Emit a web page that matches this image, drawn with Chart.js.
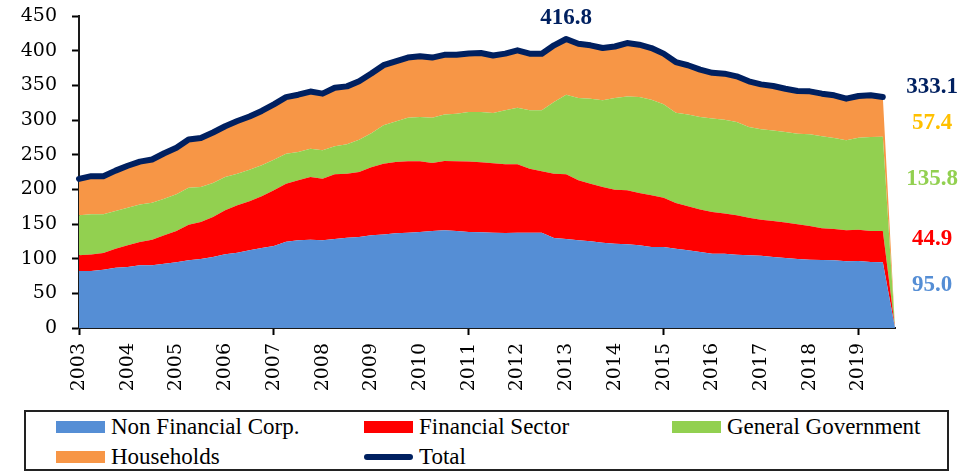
<!DOCTYPE html>
<html>
<head>
<meta charset="utf-8">
<script src="https://cdn.jsdelivr.net/npm/chart.js@4"></script>
<style>
  html, body { margin: 0; padding: 0; background: #fff; }
  #wrap { position: relative; width: 976px; height: 472px; overflow: hidden; }
  #cbox { position: absolute; left: 0; top: 0; width: 976px; height: 405px; }
  #legend { position: absolute; left: 24px; top: 410px; width: 925px; height: 61px;
            box-sizing: border-box; border: 2px solid #222; }
  .li { position: absolute; font-family: "Liberation Serif", serif; font-size: 23px; color: #000;
        white-space: nowrap; line-height: 24px; }
  .sw { position: absolute; }
</style>
</head>
<body>
<div id="wrap">
  <div id="cbox"><canvas id="c"></canvas></div>
  <div id="legend"></div>
</div>
<script>
// ---- data (quarterly, 2003Q1 .. 2019Q4) ----
const years = ['2003','2004','2005','2006','2007','2008','2009','2010','2011','2012','2013','2014','2015','2016','2017','2018','2019'];
const quarters = [];
years.forEach(y => { for (let q = 1; q <= 4; q++) quarters.push(y + 'Q' + q); });

const nonFinancialCorp = [
  82.2, 82.2, 84.0, 87.0, 88.0, 90.4, 90.4, 92.8, 94.7, 97.6, 99.5, 102.4,
  106.3, 108.6, 112.0, 115.4, 118.3, 124.5, 126.4, 127.4, 126.4, 128.4, 130.3, 131.3,
  133.7, 135.0, 136.5, 137.5, 138.5, 140.0, 140.9, 140.0, 138.5, 138.0, 137.5, 137.0,
  137.5, 137.5, 137.5, 129.8, 128.4, 126.4, 125.0, 123.0, 121.6, 120.7, 119.2, 116.8,
  116.8, 114.4, 112.0, 109.6, 107.2, 107.2, 105.8, 104.8, 104.3, 102.4, 101.0, 99.5,
  98.6, 98.0, 97.6, 96.2, 96.6, 95.2, 95.0, 0
];
const financialSector = [
  22.6, 23.8, 24.0, 27.4, 31.2, 33.6, 37.0, 40.9, 45.3, 51.4, 53.5, 57.6,
  63.4, 68.4, 70.7, 74.6, 80.3, 83.5, 86.6, 90.4, 89.0, 93.2, 92.3, 93.7,
  98.3, 102.0, 102.9, 102.9, 101.9, 98.0, 100.0, 100.4, 101.5, 101.0, 100.0, 99.0,
  98.5, 92.3, 88.5, 92.8, 93.2, 86.6, 83.0, 80.4, 77.9, 77.9, 75.5, 74.5,
  71.2, 65.9, 63.5, 61.4, 60.1, 57.8, 56.7, 54.2, 52.0, 51.9, 51.0, 50.0,
  48.4, 46.0, 45.2, 44.7, 45.2, 44.8, 44.9, 0
];
const generalGovernment = [
  57.7, 58.0, 56.0, 54.4, 54.4, 54.0, 53.4, 52.8, 52.8, 53.4, 50.4, 49.0,
  48.1, 45.6, 45.7, 44.6, 44.2, 43.4, 40.8, 40.9, 40.9, 40.4, 42.4, 46.6,
  49.0, 55.3, 58.6, 63.0, 63.9, 65.4, 67.1, 68.6, 71.5, 72.5, 72.5, 78.0,
  81.8, 84.2, 88.0, 103.4, 114.9, 118.7, 122.8, 125.0, 132.2, 135.4, 138.3, 138.0,
  134.6, 130.3, 132.5, 133.3, 134.7, 135.5, 134.5, 131.0, 130.3, 130.7, 130.7, 130.5,
  132.3, 132.4, 131.2, 129.8, 132.7, 135.5, 135.8, 0
];
const households = [
  52.5, 55.0, 55.0, 58.2, 60.4, 62.0, 62.2, 65.5, 67.2, 69.6, 70.6, 73.0,
  73.2, 75.9, 76.6, 78.4, 79.8, 81.6, 82.7, 82.3, 81.7, 84.6, 83.5, 84.4,
  86.0, 86.7, 86.6, 86.6, 87.7, 86.6, 86.0, 85.0, 84.5, 85.1, 83.0, 81.7,
  82.7, 81.7, 81.7, 81.7, 80.3, 78.3, 76.9, 75.4, 74.3, 77.0, 75.6, 74.5,
  73.1, 73.0, 71.0, 68.3, 66.0, 66.3, 66.0, 65.8, 64.9, 64.0, 62.3, 61.8,
  62.0, 61.6, 61.6, 60.1, 60.1, 60.1, 57.4, 0
];
const total = [
  215.0, 219.0, 219.0, 227.0, 234.0, 240.0, 243.0, 252.0, 260.0, 272.0, 274.0, 282.0,
  291.0, 298.5, 305.0, 313.0, 322.6, 333.0, 336.5, 341.0, 338.0, 346.6, 348.5, 356.0,
  367.0, 379.0, 384.6, 390.0, 392.0, 390.0, 394.0, 394.0, 396.0, 396.6, 393.0, 395.7,
  400.5, 395.7, 395.7, 407.7, 416.8, 410.0, 407.7, 403.8, 406.0, 411.0, 408.6, 403.8,
  395.7, 383.6, 379.0, 372.6, 368.0, 366.8, 363.0, 355.8, 351.4, 349.0, 345.0, 341.8,
  341.3, 338.0, 335.6, 330.8, 334.6, 335.6, 333.1, null
];
const yTicks = [0, 50, 100, 150, 200, 250, 300, 350, 400, 450];

// ---- styles ----
const C = { nfc: '#558ED5', fs: '#FF0000', gg: '#92D050', hh: '#F79646', tot: '#002060', hhLabel: '#FFC000' };

const areaDs = (label, data, color, fill) => ({
  label, data, backgroundColor: color, borderColor: color, borderWidth: 0,
  fill, pointRadius: 0, tension: 0, stack: 'sectors'
});

const datasets = [
  { label: 'Total', data: total, borderColor: C.tot, backgroundColor: C.tot, borderWidth: 6,
    fill: false, pointRadius: 0, tension: 0, stack: 'total',
    borderCapStyle: 'round', borderJoinStyle: 'round' },
  areaDs('Non Financial Corp.', nonFinancialCorp, C.nfc, 'origin'),
  areaDs('Financial Sector', financialSector, C.fs, '-1'),
  areaDs('General Government', generalGovernment, C.gg, '-1'),
  areaDs('Households', households, C.hh, '-1')
];

const lastIdx = total.filter(v => v !== null).length - 1;

const labelPlugin = {
  id: 'valueLabels',
  afterDatasetsDraw(chart) {
    const { ctx, chartArea, scales: { x, y } } = chart;
    ctx.save();
    ctx.font = 'bold 23px "Liberation Serif", serif';
    ctx.textAlign = 'center';
    ctx.textBaseline = 'middle';
    // peak of total
    let maxI = 0;
    total.forEach((v, i) => { if (v !== null && v > total[maxI]) maxI = i; });
    ctx.fillStyle = C.tot;
    ctx.fillText(total[maxI].toFixed(1), x.getPixelForValue(maxI), y.getPixelForValue(total[maxI]) - 21);
    // right-side labels for last values
    const lx = chartArea.right + 37;
    const a = nonFinancialCorp[lastIdx], b = financialSector[lastIdx],
          g = generalGovernment[lastIdx], h = households[lastIdx];
    const items = [
      [total[lastIdx], total[lastIdx], C.tot, -9.5],
      [h, a + b + g + h / 2, C.hhLabel, 6],
      [g, a + b + g / 2, C.gg, -5],
      [b, a + b / 2, C.fs, -7.5],
      [a, a / 2, C.nfc, -10.5]
    ];
    items.forEach(([v, pos, col, dy]) => {
      ctx.fillStyle = col;
      ctx.fillText(v.toFixed(1), lx, y.getPixelForValue(pos) + dy);
    });
    ctx.restore();
  }
};

const tickFont = { family: '"DejaVu Serif", serif', size: 19 };

new Chart(document.getElementById('c'), {
  type: 'line',
  data: { labels: quarters, datasets },
  options: {
    responsive: true,
    maintainAspectRatio: false,
    animation: false,
    layout: { padding: { left: 0, right: 81, top: 16, bottom: 0 } },
    plugins: { legend: { display: false }, tooltip: { enabled: false }, title: { display: false } },
    scales: {
      x: {
        offset: false,
        grid: { drawOnChartArea: false, drawTicks: true, tickLength: 7,
                tickColor: c => (c.index % 4 === 0 && c.index < quarters.length - 1) ? '#000' : 'rgba(0,0,0,0)',
                tickWidth: 2 },
        border: { display: true, color: '#1a1a1a', width: 2 },
        ticks: {
          autoSkip: false, minRotation: 90, maxRotation: 90, padding: 8,
          color: '#000', font: tickFont,
          callback: (v, i) => (i % 4 === 0 && i < quarters.length - 1) ? quarters[i].slice(0, 4) : null
        },
        afterFit: s => { s.height = 77; s.paddingLeft = 0; s.paddingRight = 0; }
      },
      y: {
        stacked: true,
        min: 0, max: 450,
        afterBuildTicks: s => { s.ticks = yTicks.map(v => ({ value: v })); },
        grid: { drawOnChartArea: false, drawTicks: true, tickLength: 7, tickColor: '#000', tickWidth: 2 },
        border: { display: true, color: '#1a1a1a', width: 2 },
        ticks: { color: '#000', font: tickFont, padding: 15 },
        afterFit: s => { s.width = 79; s.paddingTop = 0; s.paddingBottom = 0; }
      }
    }
  },
  plugins: [labelPlugin]
});

// ---- HTML legend built from datasets ----
const legendEl = document.getElementById('legend');
const order = ['Non Financial Corp.', 'Financial Sector', 'General Government', 'Households', 'Total'];
const colX = [56, 364, 672];
const rowY = [426.5, 456.5];
order.forEach((name, k) => {
  const ds = datasets.find(d => d.label === name);
  const col = k % 3, row = Math.floor(k / 3);
  const left = colX[col] - 24 - 2, cy = rowY[row] - 410 - 2;
  const sw = document.createElement('div');
  sw.className = 'sw';
  if (name === 'Total') {
    Object.assign(sw.style, { left: left + 'px', top: (cy - 3) + 'px', width: '49px', height: '6px',
      background: ds.borderColor, borderRadius: '3px' });
  } else {
    Object.assign(sw.style, { left: left + 'px', top: (cy - 6) + 'px', width: '49px', height: '12px',
      background: ds.backgroundColor });
  }
  legendEl.appendChild(sw);
  const t = document.createElement('div');
  t.className = 'li';
  t.textContent = name;
  Object.assign(t.style, { left: (left + 55) + 'px', top: (cy - 12) + 'px' });
  legendEl.appendChild(t);
});
</script>
</body>
</html>
